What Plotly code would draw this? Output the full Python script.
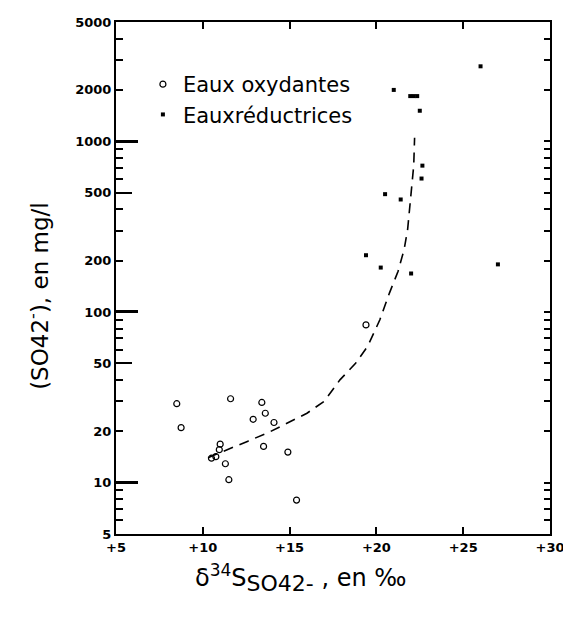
import plotly.graph_objects as go

# Eaux oxydantes (open circles)
ox_delta = [8.5, 8.75, 11.6, 13.4, 13.6, 12.9, 14.1, 13.5, 14.9, 11.3, 11.5, 15.4, 19.4, 10.5, 10.75, 11.0, 10.95]
ox_so4 = [29, 21, 31, 29.5, 25.5, 23.5, 22.5, 16.3, 15.1, 12.9, 10.4, 7.9, 84, 13.9, 14.2, 16.8, 15.6]

# Eaux reductrices (small filled squares)
red_delta = [26.0, 21.0, 21.95, 22.15, 22.35, 22.5, 22.65, 22.6, 20.5, 21.4, 19.4, 20.25, 22.0, 27.0]
red_so4 = [2750, 2000, 1840, 1840, 1840, 1510, 720, 605, 490, 456, 215, 182, 168, 190]

# dashed trend line
curve_delta = [10.3, 11.5, 12.6, 13.8, 14.9, 16.0, 17.0, 17.9, 18.8, 19.5, 20.2,
               20.75, 21.25, 21.6, 21.8, 21.95, 22.05, 22.15, 22.2]
curve_so4 = [14, 15.8, 17.5, 19.7, 22.5, 25.5, 30, 40, 50, 63, 90,
             129, 173, 233, 305, 430, 543, 721, 1050]

x_ticks = [5, 10, 15, 20, 25, 30]
x_labels = ["+5", "+10", "+15", "+20", "+25", "+30"]
y_ticks = [5, 10, 20, 50, 100, 200, 500, 1000, 2000, 5000]
y_small = [6, 7, 8, 9, 20, 30, 40, 60, 70, 80, 90, 200, 300, 400, 600, 700, 800, 900, 2000, 3000, 4000]
y_decades = [10, 100, 1000]
y_fives = [50, 500]

tick_font = dict(family="DejaVu Sans", size=13, color="black", weight="bold")
text_font = dict(family="DejaVu Sans", size=23, color="black")

fig = go.Figure()
fig.add_trace(go.Scatter(
    x=curve_delta, y=curve_so4, mode="lines",
    line=dict(color="black", width=1.6, dash="10px,7px"),
    showlegend=False, hoverinfo="skip",
))
fig.add_trace(go.Scatter(
    x=ox_delta, y=ox_so4, mode="markers", name="Eaux oxydantes",
    marker=dict(symbol="circle-open", size=6, color="black", line=dict(width=1.2)),
))
fig.add_trace(go.Scatter(
    x=red_delta, y=red_so4, mode="markers", name="Eauxréductrices",
    marker=dict(symbol="square", size=4, color="black"),
))
# empty traces so the extra tick axes get drawn
for ax in ["y2", "y3", "y4", "y5"]:
    fig.add_trace(go.Scatter(x=[None], y=[None], yaxis=ax, showlegend=False, hoverinfo="skip"))

yrange = [0.69897, 3.69897]
common_y = dict(type="log", range=yrange, showgrid=False, zeroline=False, fixedrange=True,
                overlaying="y", anchor="x", showticklabels=False, ticks="inside",
                tickcolor="black", showline=True, linewidth=2, linecolor="black")

fig.update_layout(
    width=563,
    height=617,
    margin=dict(l=116, r=13, t=22, b=83),
    paper_bgcolor="white",
    plot_bgcolor="white",
    font=text_font,
    xaxis=dict(
        range=[4.999, 30.001], tickvals=x_ticks, ticktext=x_labels, ticks="inside", ticklen=7,
        tickwidth=2, tickcolor="black", showline=True, linewidth=2, linecolor="black",
        mirror="ticks", showgrid=False, zeroline=False, tickfont=tick_font,
        ticklabeloverflow="allow", automargin=False,
    ),
    yaxis=dict(
        type="log", range=yrange, showgrid=False, zeroline=False, fixedrange=True,
        tickvals=y_ticks, ticktext=[str(v) for v in y_ticks], ticks="",
        showline=True, linewidth=2, linecolor="black", mirror=True, tickfont=tick_font,
        automargin=False,
    ),
    # left side tick marks of three lengths
    yaxis2=dict(**common_y, side="left", tickvals=y_decades, ticklen=22, tickwidth=2.5),
    yaxis3=dict(**common_y, side="left", tickvals=y_fives, ticklen=16, tickwidth=2),
    yaxis5=dict(**common_y, side="left", tickvals=y_small, ticklen=7, tickwidth=2),
    # right side tick marks
    yaxis4=dict(**common_y, side="right", tickvals=y_small + y_decades + y_fives,
                ticklen=6, tickwidth=2),
    legend=dict(
        x=0.062, y=0.918, xanchor="left", yanchor="top", bgcolor="rgba(0,0,0,0)",
        font=dict(family="DejaVu Sans", size=21, color="black"), tracegroupgap=0,
        itemwidth=30,
    ),
    annotations=[
        dict(text="(SO42<sup>-</sup>), en mg/l", xref="paper", yref="paper",
             x=-0.219, y=0.465, textangle=-90, showarrow=False, font=text_font),
        dict(text="δ<sup><span style='font-size:17px'>34</span></sup>S"
                  "<sub><span style='font-size:22px'>SO42-</span></sub> , en ‰",
             xref="paper", yref="paper", x=0.424, y=-0.125, showarrow=False,
             font=dict(family="DejaVu Sans", size=24, color="black")),
    ],
)

# no page margin, so the figure fits the window without scrollbars
fig.write_html("out.html", config={"displayModeBar": False},
               post_script="document.body.style.margin='0px';")
